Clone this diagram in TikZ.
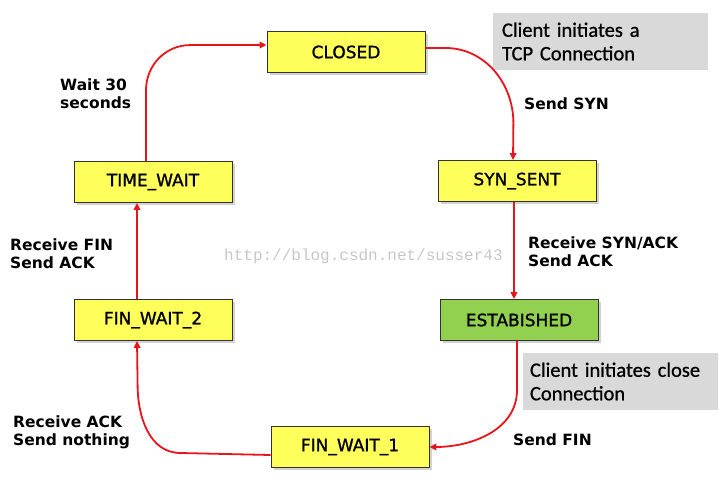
\documentclass[tikz,border=0pt]{standalone}
\usepackage{fontspec}
\usetikzlibrary{arrows.meta,shadows}
\newfontfamily\statefont{DejaVu Sans}
\newfontfamily\heavystatefont{DejaVu Sans}[FakeBold=1.2]
\newfontfamily\notefont{Carlito}[FakeBold=0.8]
\newfontfamily\markfont{Liberation Mono}
\definecolor{stateyellow}{HTML}{FFFF5C}
\definecolor{stategreen}{HTML}{92D050}
\definecolor{flowred}{HTML}{E8141B}
\definecolor{notegray}{HTML}{D9D9D9}

\begin{document}
\begin{tikzpicture}[x=1pt,y=1pt,
		state/.style={draw=black!80,line width=0.8pt,fill=stateyellow,minimum width=158pt,minimum height=41pt,
			inner sep=0pt,font=\heavystatefont\fontsize{17}{20}\selectfont,
			drop shadow={shadow xshift=2.5pt,shadow yshift=-2.5pt,fill=black!35}},
		note/.style={fill=notegray,minimum height=57pt,inner sep=0pt,align=left,
			font=\notefont\fontsize{20.5}{23.5}\selectfont},
		event/.style={anchor=west,align=left,inner sep=0pt,font=\statefont\bfseries\fontsize{15.5}{18}\selectfont},
		flow/.style={draw=flowred,line width=1.8pt,-{Triangle[length=7pt,width=6.5pt]}}]
		\useasboundingbox (0,0) rectangle (719,490);
		\node[state] (closed) at (346,438) {CLOSED};
		\node[state] (synsent) at (517,309) {SYN\_SENT};
		\node[state,fill=stategreen] (estab) at (519,170) {ESTABISHED};
		\node[state] (fin1) at (350,43) {FIN\_WAIT\_1};
		\node[state] (fin2) at (153,170) {FIN\_WAIT\_2};
		\node[state] (timewait) at (153,308) {TIME\_WAIT};
		\node[note,minimum width=215pt,text width=197pt] (opennote) at (600.5,448.5) {Client initiates a\\TCP Connection};
		\node[note,minimum width=195pt,text width=181pt] (closenote) at (620.5,108.5) {Client initiates close\\Connection};
		\node[event] (wait) at (60,396) {Wait 30\\seconds};
		\node[event] (sendsyn) at (524,386) {Send SYN};
		\node[event] (rcvsynack) at (528,238) {Receive SYN/ACK\\Send ACK};
		\node[event] (sendfin) at (513,50) {Send FIN};
		\node[event] (rcvack) at (13,58) {Receive ACK\\Send nothing};
		\node[event] (rcvfin) at (10,236) {Receive FIN\\Send ACK};
		\node[anchor=west,inner sep=0pt,text=black!22,font=\markfont\fontsize{16}{18}\selectfont] (mark) at (224,234) {http://blog.csdn.net/susser43};
		\draw[flow] ([yshift=4pt]closed.east) -- ++(20,0) to[out=0,in=90] ++(68,-75) -- ([xshift=-4pt]synsent.north);
		\draw[flow] ([xshift=-3pt]synsent.south) -- ([xshift=-3pt]synsent.south |- estab.north);
		\draw[flow] ([xshift=-2pt]estab.south) -- ++(0,-49) to[out=-90,in=0] (fin1.east);
		\draw[flow] ([yshift=-8pt]fin1.west) -- ++(-90,2) to[out=180,in=-90] ++(-43,68) -- ([xshift=-16pt]fin2.south);
		\draw[flow] ([xshift=-16pt]fin2.north) -- ([xshift=-16pt]timewait.south);
		\draw[flow] ([xshift=-7pt]timewait.north) -- ++(0,71) to[out=90,in=180] ++(44,45) -- ([yshift=7pt]closed.west);
\end{tikzpicture}
\end{document}
